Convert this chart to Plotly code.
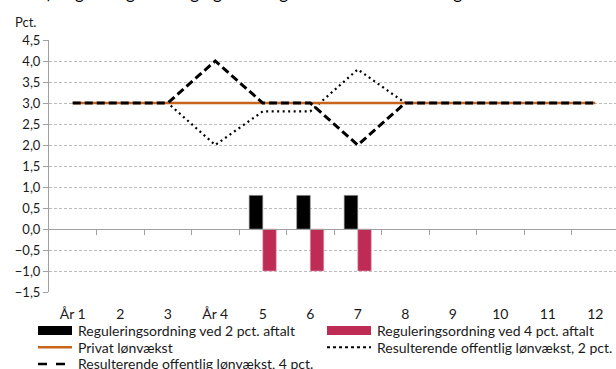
import plotly.graph_objects as go

# ---- data -------------------------------------------------------------
years = list(range(1, 13))
year_labels = ["År 1", "2", "3", "År 4", "5", "6", "7", "8", "9", "10", "11", "12"]

privat = [3.0, 3.0, 3.0, 3.0, 3.0, 3.0, 3.0, 3.0, 3.0, 3.0, 3.0, 3.0]
offentlig_4 = [3.0, 3.0, 3.0, 4.0, 3.0, 3.0, 2.0, 3.0, 3.0, 3.0, 3.0, 3.0]
offentlig_2 = [3.0, 3.0, 3.0, 2.0, 2.8, 2.8, 3.8, 3.0, 3.0, 3.0, 3.0, 3.0]
regulering_2 = [None, None, None, None, 0.8, 0.8, 0.8, None, None, None, None, None]
regulering_4 = [None, None, None, None, -1.0, -1.0, -1.0, None, None, None, None, None]

names = [
    "Reguleringsordning ved 2 pct. aftalt",
    "Reguleringsordning ved 4 pct. aftalt",
    "Privat lønvækst",
    "Resulterende offentlig lønvækst, 2 pct.",
    "Resulterende offentlig lønvækst, 4 pct.",
]

title_text = "b) Reguleringsordning og offentlig lønvækst ved forskellige aftaler"

# ---- style ------------------------------------------------------------
FONT = "Lato"
BLACK = "#000000"
RED = "#BE2B55"
ORANGE = "#C8651B"
GRID = "#BDBDBD"
AXIS = "#A0A0A0"

W, H = 616, 369
M_L, M_R, M_T, M_B = 49, 0, 40, 77
PW, PH = W - M_L - M_R, H - M_T - M_B
CAT_PX = 47.5
x_hi = 0.5 + PW / CAT_PX


def px_x(p):
    return (p - M_L) / PW


def px_y(p):
    return (H - M_B - p) / PH


fig = go.Figure()

fig.add_trace(go.Bar(x=years, y=regulering_2, name=names[0], marker=dict(color=BLACK, line=dict(color="#8C8C8C", width=0.6))))
fig.add_trace(go.Bar(x=years, y=regulering_4, name=names[1], marker=dict(color=RED, line=dict(color="#E8A6B8", width=0.6))))
fig.add_trace(go.Scatter(x=years, y=offentlig_2, mode="lines", name=names[3],
                         line=dict(color=BLACK, width=2.2, dash="2px,3.5px")))
fig.add_trace(go.Scatter(x=years, y=privat, mode="lines", name=names[2],
                         line=dict(color=ORANGE, width=2.6)))
fig.add_trace(go.Scatter(x=years, y=offentlig_4, mode="lines", name=names[4],
                         line=dict(color=BLACK, width=3, dash="8px,4px")))

fig.update_layout(
    width=W, height=H,
    margin=dict(l=M_L, r=M_R, t=M_T, b=M_B),
    paper_bgcolor="white", plot_bgcolor="white",
    separators=",.",
    showlegend=False,
    barmode="group", bargap=0.43, bargroupgap=0,
    font=dict(family=FONT, size=14, color="#1A1A1A"),
    xaxis=dict(
        range=[0.5, x_hi], tickmode="array", tickvals=years, ticktext=year_labels,
        showgrid=False, zeroline=False, showline=False, ticks="",
        ticklabelstandoff=12, tickfont=dict(size=14),
    ),
    xaxis2=dict(
        overlaying="x", anchor="free", position=0.25, side="bottom",
        range=[0.5, x_hi], tickmode="array", tickvals=[v + 0.5 for v in years],
        showticklabels=False, ticks="outside", ticklen=5, tickcolor=AXIS, tickwidth=1,
        showline=True, linecolor=AXIS, linewidth=1, showgrid=False, zeroline=False,
    ),
    yaxis=dict(
        range=[-1.5, 4.5], dtick=0.5, tick0=0, tickformat=".1f",
        showgrid=True, gridcolor=GRID, gridwidth=1, griddash="3px,2px",
        zeroline=False, showline=True, linecolor=AXIS, linewidth=1,
        ticks="outside", ticklen=5, tickcolor=AXIS, tickfont=dict(size=13),
    ),
)

# invisible trace to activate the zero-line axis
fig.add_trace(go.Scatter(x=[1], y=[None], xaxis="x2", showlegend=False, hoverinfo="skip"))

# ---- texts above the plot --------------------------------------------
fig.add_annotation(text=title_text, xref="paper", yref="paper", x=px_x(36), y=px_y(5),
                   xanchor="left", yanchor="bottom", showarrow=False,
                   font=dict(family=FONT, size=17, color="#000000"))
fig.add_annotation(text="Pct.", xref="paper", yref="paper", x=px_x(13), y=px_y(22),
                   xanchor="left", yanchor="middle", showarrow=False,
                   font=dict(family=FONT, size=13, color="#1A1A1A"))

# ---- legend -----------------------------------------------------------
rows = [330.5, 347.3, 364.0]
col_sym = [(38, 72, 76), (327, 371, 375)]
entries = [
    (0, 0, "bar", dict(color=BLACK), names[0]),
    (0, 1, "bar", dict(color=RED), names[1]),
    (1, 0, "line", dict(color=ORANGE, width=2.6), names[2]),
    (1, 1, "line", dict(color=BLACK, width=2, dash="dot"), names[3]),
    (2, 0, "line", dict(color=BLACK, width=2.6, dash="dash"), names[4]),
]
for r, c, kind, sty, label in entries:
    x0, x1, xt = col_sym[c]
    yc = rows[r]
    if kind == "bar":
        fig.add_shape(type="rect", xref="paper", yref="paper",
                      x0=px_x(x0), x1=px_x(x1), y0=px_y(yc - 4.5), y1=px_y(yc + 4.5),
                      fillcolor=sty["color"], line=dict(width=0))
    else:
        fig.add_shape(type="line", xref="paper", yref="paper",
                      x0=px_x(x0), x1=px_x(x1), y0=px_y(yc), y1=px_y(yc), line=sty)
    fig.add_annotation(text=label, xref="paper", yref="paper", x=px_x(xt), y=px_y(yc),
                       xanchor="left", yanchor="middle", showarrow=False,
                       font=dict(family=FONT, size=14, color="#1A1A1A"))

fig.write_html("out.html")
